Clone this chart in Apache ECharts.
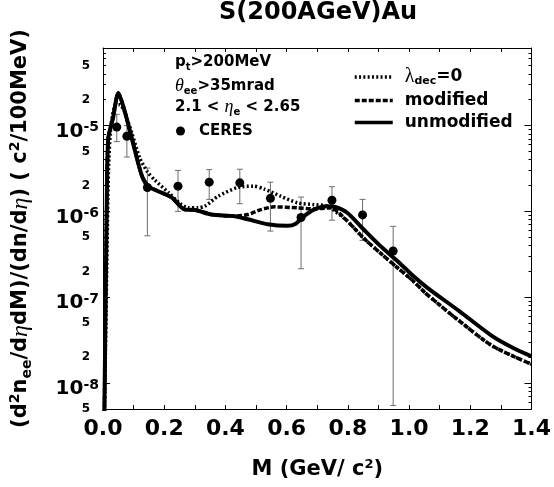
<!DOCTYPE html>
<html><head><meta charset="utf-8">
<script src="https://cdn.jsdelivr.net/npm/echarts@6/dist/echarts.min.js"></script>
<style>html,body{margin:0;padding:0;background:#fff}#c{width:554px;height:487px}</style>
</head><body><div id="c"></div>
<script>
// CERES data points (M in GeV/c^2)
const massCeres = [0.045, 0.078, 0.145, 0.245, 0.347, 0.447, 0.547, 0.647, 0.748, 0.848, 0.948];
const yCeres     = [9.6e-6, 7.5e-6, 1.9e-6, 1.97e-6, 2.19e-6, 2.15e-6, 1.42e-6, 8.5e-7, 1.35e-6, 9.1e-7, 3.46e-7];
const yCeresLow  = [6.5e-6, 4.3e-6, 5.2e-7, 1.0e-6, 1.38e-6, 1.23e-6, 5.9e-7, 2.15e-7, 7.9e-7, 4.6e-7, 5.5e-9];
const yCeresHigh = [1.35e-5, 1.0e-5, 3.2e-6, 3.0e-6, 3.07e-6, 3.1e-6, 2.19e-6, 1.47e-6, 1.94e-6, 1.38e-6, 6.7e-7];

// unmodified (solid)
const massUnmod = [0.004, 0.012, 0.017, 0.033, 0.05, 0.068, 0.095, 0.127, 0.149, 0.19, 0.225, 0.268, 0.30, 0.354, 0.43, 0.473, 0.538, 0.603, 0.63, 0.651, 0.689, 0.732, 0.759, 0.797, 0.851, 0.905, 0.959, 1.013, 1.06, 1.164, 1.273, 1.337, 1.4];
const yUnmod    = [3e-9, 1.0e-6, 7.0e-6, 1.24e-5, 2.4e-5, 1.6e-5, 6.9e-6, 2.6e-6, 1.95e-6, 1.66e-6, 1.45e-6, 1.05e-6, 1.04e-6, 9.2e-7, 8.8e-7, 8.1e-7, 7.1e-7, 6.8e-7, 7.2e-7, 8.5e-7, 1.05e-6, 1.15e-6, 1.13e-6, 9.7e-7, 6.2e-7, 4.0e-7, 2.7e-7, 1.78e-7, 1.29e-7, 6.9e-8, 3.5e-8, 2.6e-8, 2.05e-8];

// modified (dashed)
const massMod = [0.004, 0.012, 0.017, 0.033, 0.05, 0.068, 0.095, 0.127, 0.149, 0.19, 0.225, 0.268, 0.30, 0.354, 0.43, 0.473, 0.516, 0.56, 0.635, 0.689, 0.743, 0.797, 0.851, 0.905, 0.96, 1.013, 1.056, 1.164, 1.273, 1.4];
const yMod    = [3e-9, 1.0e-6, 7.0e-6, 1.24e-5, 2.4e-5, 1.6e-5, 6.9e-6, 2.6e-6, 1.95e-6, 1.66e-6, 1.45e-6, 1.05e-6, 1.04e-6, 9.2e-7, 8.8e-7, 9.2e-7, 1.05e-6, 1.13e-6, 1.1e-6, 1.07e-6, 1.1e-6, 7.8e-7, 4.9e-7, 3.3e-7, 2.24e-7, 1.55e-7, 1.1e-7, 5.3e-8, 2.7e-8, 1.66e-8];

// lambda_dec = 0 (dotted)
const massLam = [0.004, 0.012, 0.018, 0.026, 0.042, 0.055, 0.07, 0.095, 0.12, 0.145, 0.17, 0.214, 0.25, 0.279, 0.31, 0.333, 0.376, 0.44, 0.49, 0.527, 0.581, 0.635, 0.689, 0.732, 0.797, 0.851, 0.905, 0.96, 1.013, 1.056, 1.164, 1.273, 1.4];
const yLam    = [3e-9, 2e-7, 3e-6, 1.0e-5, 1.75e-5, 1.75e-5, 1.45e-5, 8.0e-6, 4.2e-6, 2.9e-6, 2.3e-6, 1.66e-6, 1.25e-6, 1.1e-6, 1.1e-6, 1.15e-6, 1.5e-6, 1.9e-6, 1.97e-6, 1.82e-6, 1.5e-6, 1.26e-6, 1.2e-6, 1.15e-6, 7.8e-7, 4.9e-7, 3.3e-7, 2.24e-7, 1.55e-7, 1.1e-7, 5.3e-8, 2.7e-8, 1.66e-8];

// axis ticks / labels
const xLabelValues = [0, 0.2, 0.4, 0.6, 0.8, 1.0, 1.2, 1.4];
const yMajorValues = [1e-8, 1e-7, 1e-6, 1e-5];
const yMinorLabelValues = [5.00001e-9, 2e-8, 5e-8, 2e-7, 5e-7, 2e-6, 5e-6, 2e-5, 5e-5];
const yMinorLabelText = ['5', '2', '5', '2', '5', '2', '5', '2', '5'];
const yMinorTickValues = [6e-9,7e-9,8e-9,9e-9,2e-8,3e-8,4e-8,5e-8,6e-8,7e-8,8e-8,9e-8,2e-7,3e-7,4e-7,5e-7,6e-7,7e-7,8e-7,9e-7,2e-6,3e-6,4e-6,5e-6,6e-6,7e-6,8e-6,9e-6,2e-5,3e-5,4e-5,5e-5,6e-5,7e-5];
const Y_MIN = 5e-9, Y_MAX = 8e-5;

const F = 'DejaVu Sans';
const SERIF = 'Liberation Serif';

const pair = (xs, ys) => xs.map((x, i) => [x, ys[i]]);

const chart = echarts.init(document.getElementById('c'), null, {renderer: 'canvas'});

const baseLog = {
  type: 'log', logBase: 10, min: Y_MIN, max: Y_MAX,
  splitLine: {show: false}, axisPointer: {show: false}
};

const option = {
  animation: false,
  backgroundColor: '#fff',
  title: {
    text: 'S(200AGeV)Au', left: 219, top: 0, padding: 0,
    textStyle: {fontFamily: F, fontWeight: 'bold', fontSize: 24, color: '#000', lineHeight: 26}
  },
  grid: {left: 103, right: 18, top: 48, bottom: 78, containLabel: false},
  legend: [{
    orient: 'vertical', left: 353, top: 67, padding: 0, itemGap: 5,
    itemWidth: 38, itemHeight: 14,
    data: ['lam', 'modified', 'unmodified'],
    itemStyle: {color: 'rgba(0,0,0,0)', borderWidth: 0, opacity: 0},
    lineStyle: {width: 3.5},
    formatter: n => n === 'lam' ? '{g|λ}{s|dec}{b|=0}' : '{b|' + n + '}',
    textStyle: {
      color: '#000', padding: [0, 0, 0, 7],
      rich: {
        b: {fontFamily: F, fontWeight: 'bold', fontSize: 17, lineHeight: 20, color: '#000'},
        g: {fontFamily: SERIF, fontSize: 20, lineHeight: 20, color: '#000'},
        s: {fontFamily: F, fontWeight: 'bold', fontSize: 11, lineHeight: 8, verticalAlign: 'bottom', color: '#000'}
      }
    }
  }, {
    orient: 'vertical', left: 176, top: 121, padding: 0,
    itemWidth: 9, itemHeight: 9,
    data: ['CERES'],
    itemStyle: {color: '#000', opacity: 1},
    textStyle: {color: '#000', fontFamily: F, fontWeight: 'bold', fontSize: 15, lineHeight: 20, padding: [0, 0, 0, 9]}
  }],
  graphic: [
    {type: 'text', left: 175, top: 55, style: {
      text: '{b|p}{s|t}{b|>200MeV}',
      rich: {
        b: {fontFamily: F, fontWeight: 'bold', fontSize: 15, lineHeight: 20, fill: '#000'},
        s: {fontFamily: F, fontWeight: 'bold', fontSize: 10, lineHeight: 8, verticalAlign: 'bottom', fill: '#000'}
      }}},
    {type: 'text', left: 175, top: 77, style: {
      text: '{g|θ}{s|ee}{b|>35mrad}',
      rich: {
        b: {fontFamily: F, fontWeight: 'bold', fontSize: 15, lineHeight: 20, fill: '#000'},
        g: {fontFamily: SERIF, fontStyle: 'italic', fontSize: 18, lineHeight: 20, fill: '#000'},
        s: {fontFamily: F, fontWeight: 'bold', fontSize: 10, lineHeight: 8, verticalAlign: 'bottom', fill: '#000'}
      }}},
    {type: 'text', left: 175, top: 98, style: {
      text: '{b|2.1 < }{g|η}{s|e}{b| < 2.65}',
      rich: {
        b: {fontFamily: F, fontWeight: 'bold', fontSize: 15, lineHeight: 20, fill: '#000'},
        g: {fontFamily: SERIF, fontStyle: 'italic', fontSize: 18, lineHeight: 20, fill: '#000'},
        s: {fontFamily: F, fontWeight: 'bold', fontSize: 10, lineHeight: 8, verticalAlign: 'bottom', fill: '#000'}
      }}}
  ],
  xAxis: [{
    type: 'value', min: 0, max: 1.4, interval: 0.1, position: 'bottom',
    splitLine: {show: false},
    axisLine: {show: true, onZero: false, lineStyle: {color: '#000', width: 1}},
    axisTick: {show: true, inside: true, length: 4, lineStyle: {color: '#000'}},
    axisLabel: {
      customValues: xLabelValues, margin: 9,
      formatter: v => v.toFixed(1),
      fontFamily: F, fontWeight: 'bold', fontSize: 22, color: '#000'
    },
    name: '{b|M (GeV/ c}{p|2}{b|)}', nameLocation: 'middle', nameGap: 49,
    nameTextStyle: {
      rich: {
        b: {fontFamily: F, fontWeight: 'bold', fontSize: 21, lineHeight: 24, color: '#000'},
        p: {fontFamily: F, fontWeight: 'bold', fontSize: 13, lineHeight: 6, verticalAlign: 'top', color: '#000'}
      }
    }
  }, {
    type: 'value', min: 0, max: 1.4, interval: 0.1, position: 'top',
    splitLine: {show: false},
    axisLine: {show: true, onZero: false, lineStyle: {color: '#000', width: 1}},
    axisTick: {show: true, inside: true, length: 4, lineStyle: {color: '#000'}},
    axisLabel: {show: false}
  }],
  yAxis: [Object.assign({}, baseLog, {
    position: 'left',
    axisLine: {show: true, lineStyle: {color: '#000', width: 1}},
    axisTick: {show: true, inside: true, length: 7, customValues: yMajorValues, lineStyle: {color: '#000'}},
    axisLabel: {
      customValues: yMajorValues, margin: 4, padding: [12, 0, 0, 0],
      formatter: v => '{m|10}{e|' + Math.round(Math.log10(v)) + '}',
      rich: {
        m: {fontFamily: F, fontWeight: 'bold', fontSize: 20, lineHeight: 22, color: '#000'},
        e: {fontFamily: F, fontWeight: 'bold', fontSize: 14, lineHeight: 4, verticalAlign: 'top', color: '#000'}
      }
    },
    name: '{b|(d}{p|2}{b|n}{s|ee}{b|/d}{g|η}{b|dM)/(dn/d}{g|η}{b|) ( c}{p|2}{b|/100MeV)}',
    nameLocation: 'middle', nameRotate: 90, nameGap: 69,
    nameTextStyle: {
      rich: {
        b: {fontFamily: F, fontWeight: 'bold', fontSize: 21, lineHeight: 26, color: '#000'},
        g: {fontFamily: SERIF, fontStyle: 'italic', fontSize: 24, lineHeight: 26, color: '#000'},
        p: {fontFamily: F, fontWeight: 'bold', fontSize: 14, lineHeight: 6, verticalAlign: 'top', color: '#000'},
        s: {fontFamily: F, fontWeight: 'bold', fontSize: 14, lineHeight: 8, verticalAlign: 'bottom', color: '#000'}
      }
    }
  }), Object.assign({}, baseLog, {
    position: 'left',
    axisLine: {show: false},
    axisTick: {show: true, inside: true, length: 3, customValues: yMinorTickValues, lineStyle: {color: '#000'}},
    axisLabel: {
      customValues: yMinorLabelValues, margin: 13,
      formatter: v => yMinorLabelText[yMinorLabelValues.findIndex(u => Math.abs(u - v) / u < 1e-3)] || '',
      fontFamily: F, fontWeight: 'bold', fontSize: 12, color: '#000'
    }
  }), Object.assign({}, baseLog, {
    position: 'right',
    axisLine: {show: true, lineStyle: {color: '#000', width: 1}},
    axisTick: {show: true, inside: true, length: 7, customValues: yMajorValues, lineStyle: {color: '#000'}},
    axisLabel: {show: false}
  }), Object.assign({}, baseLog, {
    position: 'right',
    axisLine: {show: false},
    axisTick: {show: true, inside: true, length: 3, customValues: yMinorTickValues, lineStyle: {color: '#000'}},
    axisLabel: {show: false}
  })],
  series: [
    {
      name: 'errors', type: 'custom', xAxisIndex: 0, yAxisIndex: 0, z: 3,
      data: massCeres.map((m, i) => [m, yCeresLow[i], yCeresHigh[i]]),
      encode: {x: 0, y: [1, 2]},
      renderItem: (params, api) => {
        const x = api.value(0);
        const lo = api.coord([x, api.value(1)]);
        const hi = api.coord([x, api.value(2)]);
        const w = 3;
        const st = {stroke: '#6e6e6e', lineWidth: 1};
        return {type: 'group', children: [
          {type: 'line', shape: {x1: lo[0], y1: lo[1], x2: hi[0], y2: hi[1]}, style: st},
          {type: 'line', shape: {x1: lo[0] - w, y1: lo[1], x2: lo[0] + w, y2: lo[1]}, style: st},
          {type: 'line', shape: {x1: hi[0] - w, y1: hi[1], x2: hi[0] + w, y2: hi[1]}, style: st}
        ]};
      }
    },
    {
      name: 'lam', type: 'line', xAxisIndex: 0, yAxisIndex: 0, z: 4,
      data: pair(massLam, yLam), symbol: 'none', smooth: 0.25, clip: true,
      lineStyle: {color: '#000', width: 3.5, type: [2, 2.3]}, itemStyle: {color: '#000'}
    },
    {
      name: 'modified', type: 'line', xAxisIndex: 0, yAxisIndex: 0, z: 5,
      data: pair(massMod, yMod), symbol: 'none', smooth: 0.25, clip: true,
      lineStyle: {color: '#000', width: 3.5, type: [5, 2]}, itemStyle: {color: '#000'}
    },
    {
      name: 'unmodified', type: 'line', xAxisIndex: 0, yAxisIndex: 0, z: 6,
      data: pair(massUnmod, yUnmod), symbol: 'none', smooth: 0.25, clip: true,
      lineStyle: {color: '#000', width: 4}, itemStyle: {color: '#000'}
    },
    {
      name: 'CERES', type: 'scatter', xAxisIndex: 0, yAxisIndex: 0, z: 7,
      data: pair(massCeres, yCeres), symbol: 'circle', symbolSize: 9,
      itemStyle: {color: '#000', opacity: 1}
    }
  ]
};
chart.setOption(option);
</script>
</body></html>
